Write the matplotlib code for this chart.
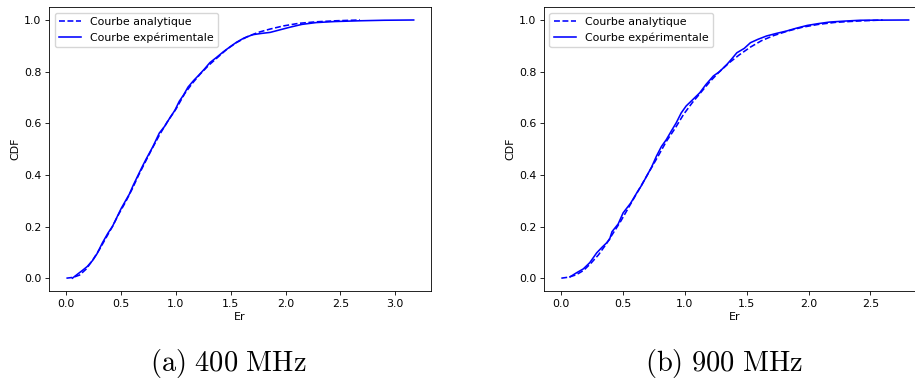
import matplotlib
matplotlib.use('Agg')
import matplotlib.pyplot as plt

er_exp_400 = [0.055, 0.10, 0.146, 0.19, 0.238, 0.28, 0.33, 0.38, 0.42, 0.46, 0.50, 0.54, 0.574, 0.61,
              0.65, 0.69, 0.726, 0.79, 0.848, 0.90, 0.94, 0.99, 1.03, 1.07, 1.11, 1.16, 1.21, 1.26,
              1.31, 1.37, 1.43, 1.49, 1.55, 1.62, 1.70, 1.78, 1.86, 1.95, 2.04, 2.15, 2.28, 2.45,
              2.68, 2.90, 3.17]
cdf_exp_400 = [0.0, 0.015, 0.03, 0.045, 0.068, 0.095, 0.138, 0.175, 0.20, 0.235, 0.27, 0.30, 0.325, 0.36,
               0.395, 0.43, 0.46, 0.51, 0.562, 0.59, 0.618, 0.65, 0.685, 0.71, 0.74, 0.765, 0.787, 0.81,
               0.835, 0.855, 0.876, 0.895, 0.913, 0.93, 0.943, 0.948, 0.952, 0.962, 0.972, 0.983, 0.99, 0.994,
               0.997, 0.999, 1.0]

# 400 MHz - analytic CDF
er_ana_400 = [0.0, 0.06, 0.12, 0.18, 0.24, 0.30, 0.36, 0.42, 0.48, 0.54, 0.60, 0.66, 0.72, 0.78,
              0.85, 0.92, 1.00, 1.08, 1.15, 1.22, 1.30, 1.38, 1.46, 1.55, 1.65, 1.75, 1.86, 1.98,
              2.12, 2.28, 2.46, 2.68]
cdf_ana_400 = [0.0, 0.003, 0.012, 0.035, 0.07, 0.11, 0.155, 0.20, 0.25, 0.295, 0.345, 0.40, 0.45, 0.50,
               0.555, 0.605, 0.655, 0.715, 0.755, 0.79, 0.825, 0.855, 0.885, 0.912, 0.935, 0.952, 0.965, 0.977,
               0.987, 0.993, 0.997, 1.0]

# 900 MHz - experimental CDF
er_exp_900 = [0.07, 0.12, 0.178, 0.23, 0.286, 0.33, 0.367, 0.39, 0.41, 0.46, 0.50, 0.56, 0.61, 0.65,
              0.69, 0.73, 0.77, 0.81, 0.85, 0.89, 0.93, 0.97, 1.01, 1.06, 1.12, 1.17, 1.23, 1.28,
              1.34, 1.38, 1.42, 1.48, 1.53, 1.59, 1.66, 1.74, 1.82, 1.90, 1.99, 2.08, 2.17, 2.30,
              2.42, 2.60, 2.81]
cdf_exp_900 = [0.005, 0.02, 0.036, 0.06, 0.098, 0.12, 0.137, 0.15, 0.18, 0.21, 0.253, 0.29, 0.33, 0.36,
               0.395, 0.43, 0.473, 0.51, 0.537, 0.57, 0.602, 0.64, 0.667, 0.69, 0.718, 0.75, 0.783, 0.80,
               0.828, 0.85, 0.873, 0.89, 0.912, 0.925, 0.938, 0.948, 0.957, 0.968, 0.979, 0.986, 0.992, 0.996,
               0.999, 0.9995, 1.0]

# 900 MHz - analytic CDF
er_ana_900 = [0.0, 0.06, 0.12, 0.18, 0.24, 0.30, 0.36, 0.42, 0.48, 0.54, 0.60, 0.66, 0.72, 0.78,
              0.85, 0.92, 0.99, 1.06, 1.13, 1.20, 1.28, 1.36, 1.44, 1.53, 1.62, 1.72, 1.83, 1.95,
              2.08, 2.22, 2.40, 2.60]
cdf_ana_900 = [0.0, 0.004, 0.013, 0.03, 0.058, 0.09, 0.13, 0.175, 0.22, 0.27, 0.32, 0.37, 0.42, 0.47,
               0.53, 0.58, 0.635, 0.68, 0.72, 0.76, 0.80, 0.835, 0.865, 0.895, 0.92, 0.94, 0.957, 0.972,
               0.983, 0.991, 0.996, 1.0]

captions = ['(a) 400 MHz', '(b) 900 MHz']
panels = [(er_ana_400, cdf_ana_400, er_exp_400, cdf_exp_400),
          (er_ana_900, cdf_ana_900, er_exp_900, cdf_exp_900)]

plt.rcParams['mathtext.fontset'] = 'cm'
fig = plt.figure(figsize=(9.15, 3.83), dpi=100)
lefts = [0.0536, 0.5945]
cap_x = [0.250, 0.791]
fs = 7.9
for left, cx, (xa, ya, xe, ye), cap in zip(lefts, cap_x, panels, captions):
    ax = fig.add_axes([left, 0.240, 0.4175, 0.7415])
    ax.plot(xa, ya, '--', color='blue', lw=1.15, label='Courbe analytique')
    ax.plot(xe, ye, '-', color='blue', lw=1.15, label='Courbe expérimentale')
    ax.set_xlabel('Er', fontsize=fs, labelpad=2.5)
    ax.set_ylabel('CDF', fontsize=fs, labelpad=2.5)
    ax.tick_params(labelsize=fs, length=2.7, width=0.6, pad=2.7)
    for s in ax.spines.values():
        s.set_linewidth(0.6)
    ax.legend(loc='upper left', fontsize=fs)
    fig.text(cx, 0.052, r'$\mathrm{' + cap.replace(' ', r'\ ') + '}$',
             ha='center', va='center', fontsize=20.5)

fig.savefig('out.png', dpi=100)
